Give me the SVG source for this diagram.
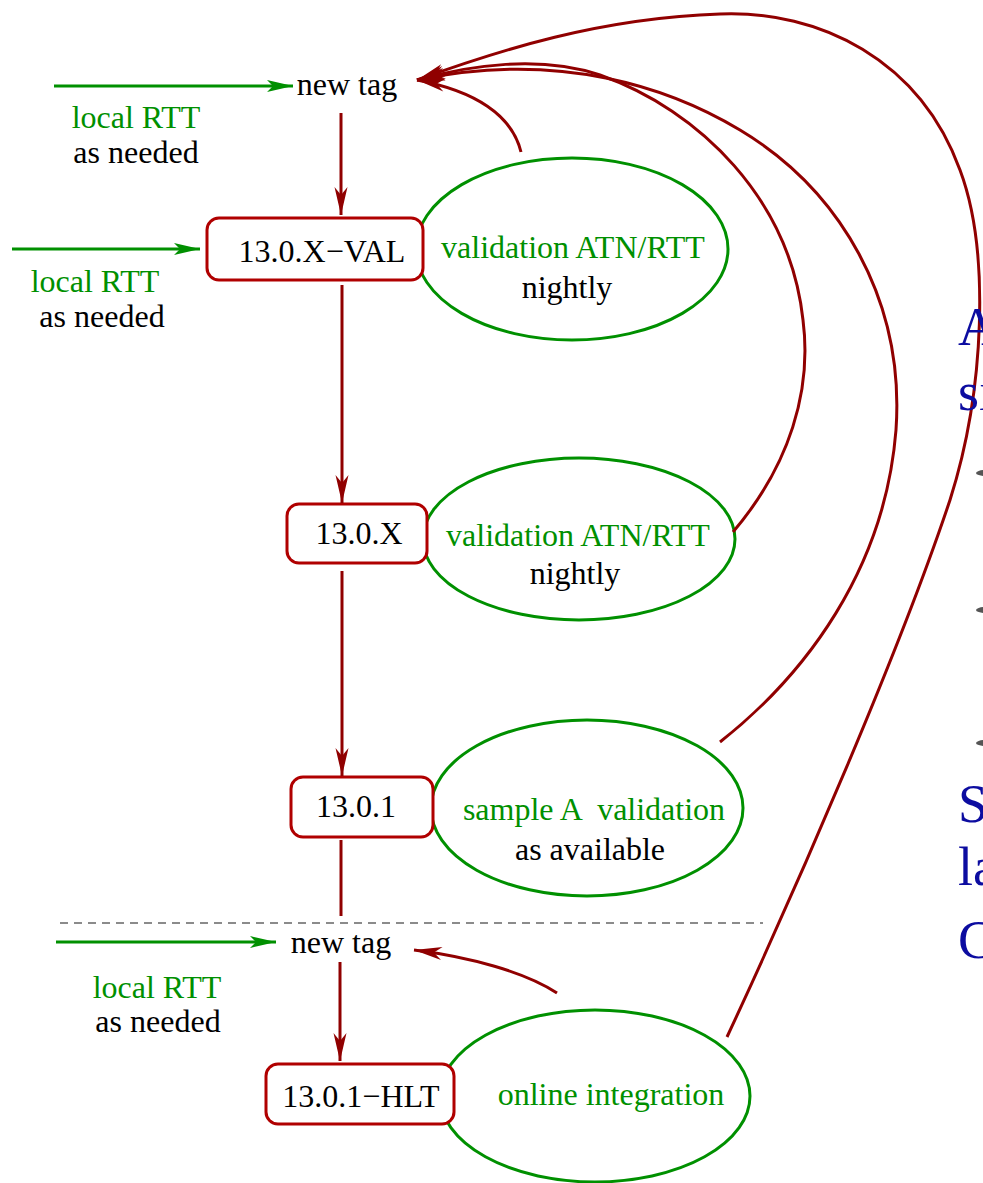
<svg xmlns="http://www.w3.org/2000/svg" width="983" height="1183" viewBox="0 0 983 1183">
<style>
text{font-family:"Liberation Serif","Times New Roman",serif;font-size:32px;text-anchor:middle}
.g{fill:#009000}
.k{fill:#000}
.box{fill:#fff;stroke:#b00000;stroke-width:3}
.ell{fill:#fff;stroke:#009000;stroke-width:3}
.red{fill:none;stroke:#900000;stroke-width:3}
.grn{fill:none;stroke:#009000;stroke-width:3}
.blue{fill:#0c0ca0;font-size:54px;text-anchor:start}
</style>
<defs>
<marker id="ar" markerUnits="userSpaceOnUse" orient="auto" markerWidth="40" markerHeight="20" refX="30" refY="10" viewBox="0 0 40 20">
<path d="M30,10 L2,3.5 L10,10 L2,16.5 Z" fill="#900000"/>
</marker>
<marker id="ag" markerUnits="userSpaceOnUse" orient="auto" markerWidth="40" markerHeight="20" refX="30" refY="10" viewBox="0 0 40 20">
<path d="M30,10 L4,4 L10,10 L4,16 Z" fill="#009000"/>
</marker>
</defs>
<rect width="983" height="1183" fill="#fff"/>

<g id="e1"><ellipse class="ell" cx="572" cy="249" rx="156" ry="91"/><text x="573" y="258" class="g">validation ATN/RTT</text><text x="567" y="298" class="k">nightly</text></g>
<g id="e2"><ellipse class="ell" cx="579" cy="539" rx="156" ry="81"/><text x="578" y="546" class="g">validation ATN/RTT</text><text x="575" y="584" class="k">nightly</text></g>
<g id="e3"><ellipse class="ell" cx="587" cy="808" rx="156" ry="88"/><text x="594" y="820" class="g" xml:space="preserve">sample A  validation</text><text x="590" y="860" class="k">as available</text></g>
<g id="e4"><ellipse class="ell" cx="595" cy="1096" rx="155" ry="86"/><text x="611" y="1105" class="g">online integration</text></g>

<g id="tag1"><text x="347" y="95" class="k">new tag</text></g>
<g id="tag2"><text x="341" y="953" class="k">new tag</text></g>
<g id="b1"><rect class="box" x="207" y="218" width="216" height="62" rx="12"/><text x="322" y="262" class="k">13.0.X−VAL</text></g>
<g id="b2"><rect class="box" x="287" y="504" width="140" height="59" rx="12"/><text x="359" y="544" class="k">13.0.X</text></g>
<g id="b3"><rect class="box" x="291" y="777" width="142" height="60" rx="12"/><text x="356" y="817" class="k">13.0.1</text></g>
<g id="b4"><rect class="box" x="266" y="1064" width="188" height="60" rx="12"/><text x="361" y="1107" class="k">13.0.1−HLT</text></g>

<g id="labels">
<text x="136" y="128" class="g">local RTT</text><text x="136" y="163" class="k">as needed</text>
<text x="95" y="292" class="g">local RTT</text><text x="102" y="327" class="k">as needed</text>
<text x="157" y="998" class="g">local RTT</text><text x="158" y="1032" class="k">as needed</text>
</g>

<g id="connectors">
<line class="grn" x1="54" y1="86" x2="293" y2="86" marker-end="url(#ag)"/>
<line class="grn" x1="12" y1="249" x2="200" y2="249" marker-end="url(#ag)"/>
<line class="grn" x1="56" y1="942" x2="276" y2="942" marker-end="url(#ag)"/>
<line class="red" x1="341" y1="113" x2="341" y2="215" marker-end="url(#ar)"/>
<line class="red" x1="342" y1="285" x2="342" y2="503" marker-end="url(#ar)"/>
<line class="red" x1="342" y1="571" x2="342" y2="776" marker-end="url(#ar)"/>
<line class="red" x1="341" y1="840" x2="341" y2="916"/>
<line class="red" x1="340" y1="962" x2="340" y2="1061" marker-end="url(#ar)"/>
<line x1="60" y1="923" x2="763" y2="923" stroke="#666" stroke-width="1.5" stroke-dasharray="8,6"/>
<path class="red" d="M521,152 C512,115 475,91 417,80" marker-end="url(#ar)"/>
<path class="red" d="M557,993 C525,972 470,957 414,950" marker-end="url(#ar)"/>
<path class="red" d="M733,532 C790,465 812,390 803,320 C790,200 700,110 600,75 C540,55 470,65 417,80" marker-end="url(#ar)"/>
<path class="red" d="M720,742 C805,675 885,570 896,430 C905,300 840,190 740,130 C670,88 560,50 417,80" marker-end="url(#ar)"/>
<path class="red" d="M727,1037 C800,880 900,650 950,500 C985,390 990,250 960,170 C920,60 820,10 720,14 C600,18 500,50 417,80" marker-end="url(#ar)"/>
</g>

<g id="slide-edge">
<text x="958" y="345" class="blue">A</text>
<text x="958" y="410" class="blue">si</text>
<text x="958" y="822" class="blue">S</text>
<text x="958" y="885" class="blue">la</text>
<text x="958" y="958" class="blue">C</text>
<ellipse cx="985" cy="473" rx="9" ry="3" fill="#555"/>
<ellipse cx="985" cy="610" rx="9" ry="3" fill="#555"/>
<ellipse cx="985" cy="743" rx="9" ry="3" fill="#555"/>
</g>
</svg>
